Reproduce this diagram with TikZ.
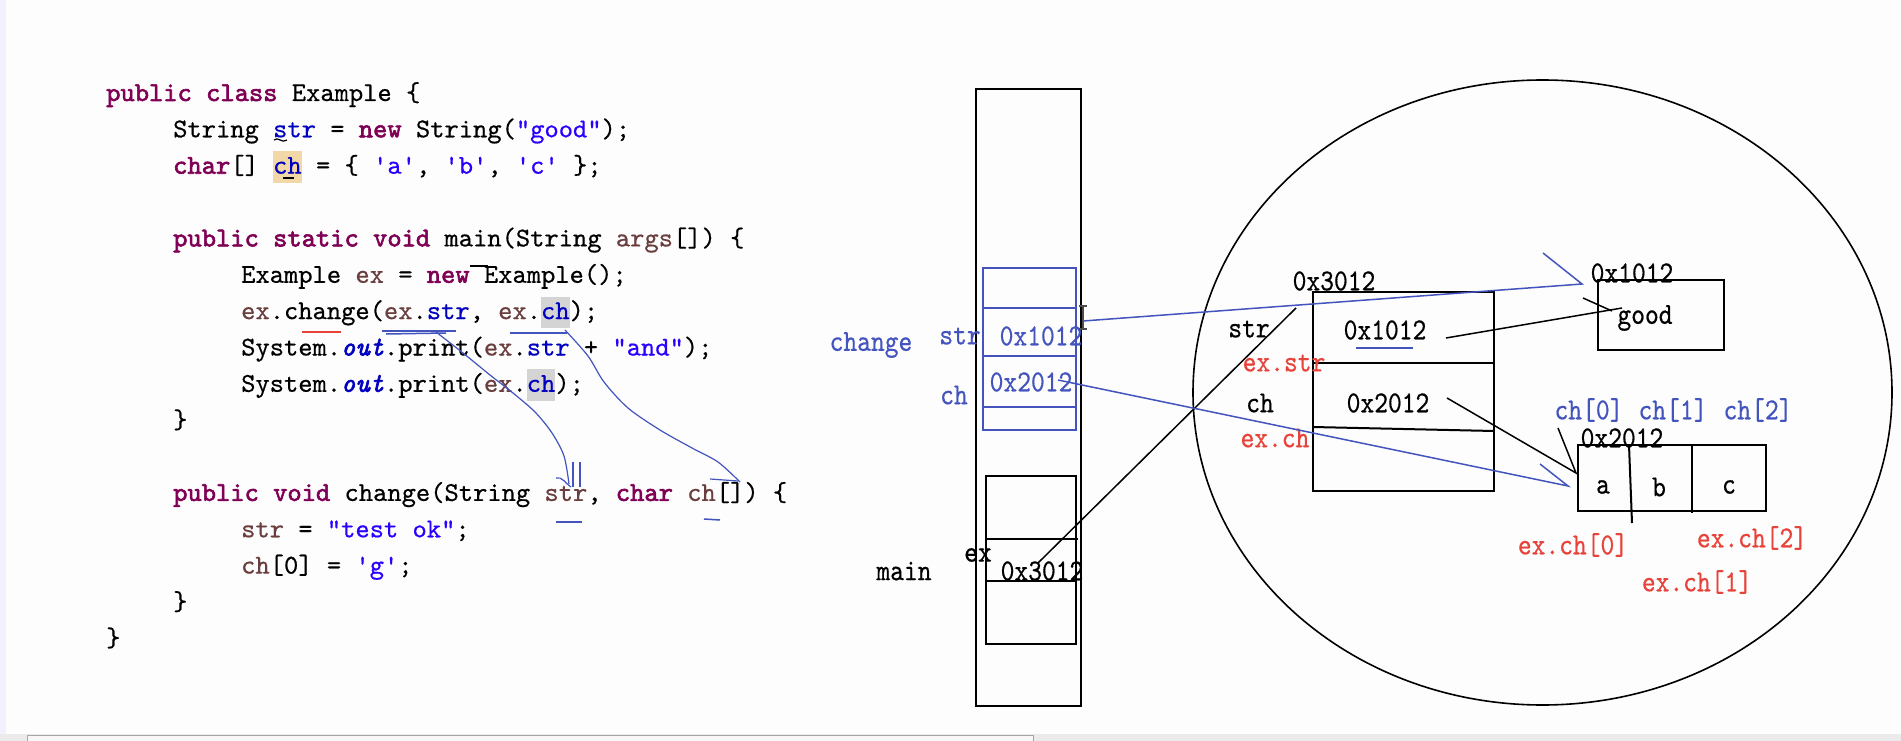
\documentclass[tikz,border=0pt]{standalone}
\usepackage{fontspec}
\usetikzlibrary{calc}
\newfontfamily\codefont{lmmono10-regular.otf}[
  UprightFeatures={FakeBold=0.5},
  BoldFont=lmmono10-regular.otf, BoldFeatures={FakeBold=2.2},
  ItalicFont=lmmono10-italic.otf,
  BoldItalicFont=lmmono10-italic.otf, BoldItalicFeatures={FakeBold=2.2}]
\newfontfamily\diafont{lmmono10-regular.otf}[FakeStretch=0.86, FakeBold=0.5]
\definecolor{kwc}{HTML}{7F0055}
\definecolor{fldc}{HTML}{0000C0}
\definecolor{strc}{HTML}{2A00FF}
\definecolor{locc}{HTML}{6A3E3E}
\definecolor{hlor}{HTML}{F2D8A7}
\definecolor{hlgr}{HTML}{D4D4D4}
\definecolor{pen}{HTML}{4454BE}
\definecolor{redl}{HTML}{E8433A}
\definecolor{bgc}{HTML}{FCFDFC}
\newcommand\kw[1]{\textcolor{kwc}{\bfseries #1}}
\newcommand\fd[1]{\textcolor{fldc}{#1}}
\newcommand\sq[1]{\textcolor{strc}{#1}}
\newcommand\lv[1]{\textcolor{locc}{#1}}
\newcommand\hlt[2]{{\setlength\fboxsep{0pt}\colorbox{#1}{\vrule width 0pt height 0.82em depth 0.34em #2}}}
\tikzset{
  code/.style={anchor=base west, inner sep=0pt, font=\codefont\fontsize{27.2}{28}\selectfont},
  dia/.style={inner sep=0pt, font=\diafont\fontsize{30.5}{31}\selectfont},
  bluet/.style={dia, text=pen},
  redt/.style={dia, text=redl},
  frame/.style={draw=black, line width=2pt},
  bframe/.style={draw=pen, line width=1.6pt},
  wire/.style={draw=black, line width=1.5pt},
  bwire/.style={draw=pen, line width=1.5pt},
  handmark/.style={draw=black, line width=1.2pt},
}
\begin{document}
\begin{tikzpicture}[x=1pt,y=-1pt]
\useasboundingbox (0,0) rectangle (1901,741);
\fill[bgc] (0,0) rectangle (1901,741);
\fill[black!4!blue!5!white] (0,0) rectangle (6,734);
\fill[black!8] (0,734) rectangle (1901,741);
\filldraw[fill=black!3, draw=black!35, line width=0.8pt] (27,735.5) rectangle (1033,742);

% ---------------- code ----------------
\node[code] (l1) at (106,101) {\kw{public} \kw{class} Example \{};
\node[code] (l2) at (173,137.3) {String \fd{str} = \kw{new} String(\sq{"good"});};
\node[code] (l3) at (173,173.7) {\kw{char}[] \hlt{hlor}{\fd{ch}} = \{ \sq{'a'}, \sq{'b'}, \sq{'c'} \};};
\node[code] (l4) at (173,246.4) {\kw{public} \kw{static} \kw{void} main(String \lv{args}[]) \{};
\node[code] (l5) at (241,282.8) {Example \lv{ex} = \kw{new} Example();};
\node[code] (l6) at (241,319.1) {\lv{ex}.change(\lv{ex}.\fd{str}, \lv{ex}.\hlt{hlgr}{\fd{ch}});};
\node[code] (l7) at (241,355.5) {System.\textcolor{fldc}{\bfseries\itshape out}.print(\lv{ex}.\fd{str} + \sq{"and"});};
\node[code] (l8) at (241,391.8) {System.\textcolor{fldc}{\bfseries\itshape out}.print(\lv{ex}.\hlt{hlgr}{\fd{ch}});};
\node[code] (l9) at (173,428.2) {\}};
\node[code] (l11) at (173,500.9) {\kw{public} \kw{void} change(String \lv{str}, \kw{char} \lv{ch}[]) \{};
\node[code] (l12) at (241,537.3) {\lv{str} = \sq{"test ok"};};
\node[code] (l13) at (241,573.6) {\lv{ch}[0] = \sq{'g'};};
\node[code] (l14) at (173,610) {\}};
\node[code] (l15) at (106,646.3) {\}};

% small hand marks in the code
\draw[handmark] (274,140) .. controls (278,136) and (282,144) .. (287,140);
\draw[handmark] (283,178) -- (294,178);
\draw[handmark] (470,266) -- (488,266);
\draw[draw=redl, line width=1.5pt] (302,332) -- (341,332);
\draw[bwire] (382,331) -- (456,331);
\draw[bwire] (386,334) -- (446,333);
\draw[bwire] (510,333) -- (567,333);
\draw[bwire] (556,522) -- (582,522);
\draw[bwire] (704,519) -- (720,520);
% curves from arguments to parameters
\coordinate (a1) at (436,332);
\coordinate (p1) at (569,484);
\coordinate (a2) at (565,330);
\coordinate (p2) at (740,482);
\draw[bwire, line width=1.2pt] plot[smooth] coordinates {(a1) (463,353) (490,375) (513,393) (535,412) (552,433) (564,456) (569,484)};
\draw[bwire, line width=1.2pt] (573,462) -- (573,487);
\draw[bwire, line width=1.2pt] (580,462) -- (580,487);
\draw[bwire, line width=1.2pt] (556,478) .. controls (562,476) and (566,484) .. (571,487);
\draw[bwire, line width=1.2pt] plot[smooth] coordinates {(a2) (588,356) (604,382) (628,408) (660,430) (692,448) (718,462) (740,482)};
\draw[bwire, line width=1.2pt] (710,479) -- (738,481);

% ---------------- stack ----------------
\node[frame, minimum width=105pt, minimum height=617pt, inner sep=0pt] (stack) at (1028.5,397.5) {};
\node[bframe, minimum width=93pt, minimum height=162pt, inner sep=0pt] (cframe) at (1029.5,349) {};
\draw[bframe] (983,308) -- (1076,308);
\draw[bframe] (983,356) -- (1076,356);
\draw[bframe] (983,407) -- (1076,407);
\node[frame, minimum width=90pt, minimum height=168pt, inner sep=0pt] (mframe) at (1031,560) {};
\draw[frame] (986,539) -- (1078,539);
\draw[frame] (986,581) -- (1076,581);

\node[bluet] (chg) at (871,345) {change};
\node[bluet] (sstr) at (960,336) {str};
\node[bluet] (sch) at (954,395) {ch};
\node[bluet] (s1012) at (1041,336) {0x1012};
\node[bluet] (s2012) at (1031,382) {0x2012};
\node[dia] (mainl) at (904,571) {main};
\node[dia] (exl) at (978,555) {ex};
\node[dia] (m3012) at (1042,571) {0x3012};

% text cursor
\draw[black!70, line width=1.2pt] (1083,307) -- (1083,328);
\draw[black!70, line width=1.2pt] (1079,306) -- (1087,306) (1079,329) -- (1087,329);

% ---------------- heap ----------------
\draw[black, line width=1.6pt] (1542.5,392.5) ellipse [x radius=349.5, y radius=312.5];
\node[frame, minimum width=181pt, minimum height=199pt, inner sep=0pt] (obj) at (1403.5,391.5) {};
\draw[frame] (1313,363) -- (1494,363);
\draw[frame] (1313,427) -- (1494,431);
\node[dia] (h3012) at (1334,281) {0x3012};
\node[dia] (hstr) at (1249,329) {str};
\node[dia] (hch) at (1260,403) {ch};
\node[dia] (h1012v) at (1385,330) {0x1012};
\node[dia] (h2012v) at (1388,403) {0x2012};
\draw[bwire] (1356,348) -- (1413,348);
\node[redt] (exstr) at (1284,363) {ex.str};
\node[redt] (exch) at (1275,438) {ex.ch};

\node[frame, minimum width=126pt, minimum height=70pt, inner sep=0pt] (goodbox) at (1661,315) {};
\node[dia] (g1012) at (1632,273) {0x1012};
\node[dia] (good) at (1645,318) {good};

\node[frame, minimum width=188pt, minimum height=66pt, inner sep=0pt] (arr) at (1672,478) {};
\draw[frame] (1629,445) -- (1632,523);
\draw[frame] (1692,445) -- (1692,513);
\node[dia] (a2012) at (1622,438) {0x2012};
\node[dia] (ca) at (1603,487) {a};
\node[dia] (cb) at (1659,487) {b};
\node[dia] (cc) at (1729,487) {c};
\node[bluet] (ch0) at (1589,410) {ch[0]};
\node[bluet] (ch1) at (1673,410) {ch[1]};
\node[bluet] (ch2) at (1758,410) {ch[2]};
\node[redt] (ech0) at (1573,545) {ex.ch[0]};
\node[redt] (ech2) at (1752,538) {ex.ch[2]};
\node[redt] (ech1) at (1697,582) {ex.ch[1]};

% ---------------- connectors ----------------
\coordinate (exfrom) at (1038,563);
\coordinate (exto) at (1296,308);
\draw[wire] (exfrom) -- (exto);

\coordinate (sfrom) at (1083,321);
\coordinate (sto) at (1582,284);
\coordinate (swing) at (1543,253);
\draw[bwire] (sfrom) -- (sto) -- (swing);

\coordinate (cfrom) at (1058,380);
\coordinate (cto) at (1568,486);
\coordinate (cwing) at (1540,464);
\draw[bwire] (cfrom) -- (cto) -- (cwing);

\coordinate (hsfrom) at (1446,338);
\coordinate (hsto) at (1622,308);
\draw[wire] (hsfrom) -- (hsto);
\draw[wire] (1583,298) -- (1612,311);

\coordinate (hcfrom) at (1447,398);
\coordinate (hcto) at (1576,473);
\coordinate (hcwing) at (1558,428);
\draw[wire] (hcfrom) -- (hcto) -- (hcwing);
\end{tikzpicture}
\end{document}
